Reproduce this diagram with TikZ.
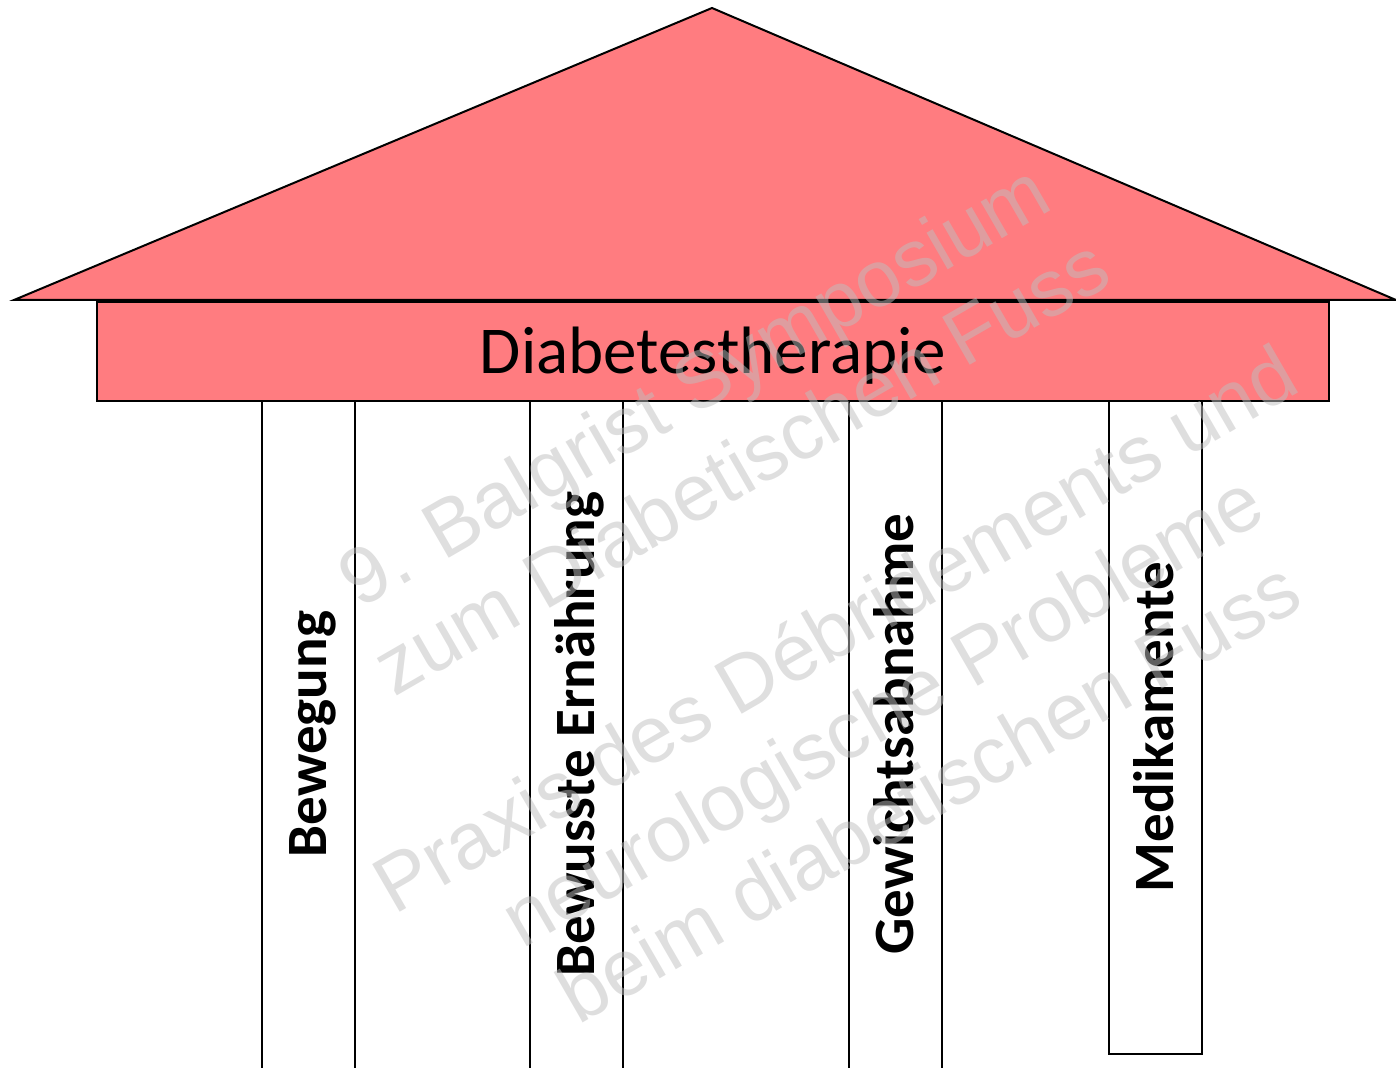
\documentclass[tikz,border=0pt]{standalone}
\usepackage{fontspec}
\setmainfont{Carlito}
\newfontfamily\wmfont{Liberation Sans}
\definecolor{roofred}{RGB}{255,124,128}
\definecolor{wmgray}{RGB}{191,191,191}
\begin{document}
\begin{tikzpicture}[x=0.5pt,y=-0.5pt,
  part/.style={draw=black, line width=1pt, fill=roofred},
  pillar/.style={draw=black, line width=0.9pt, fill=white, inner sep=0pt, minimum width=46.5pt, anchor=north},
  plabel/.style={font=\fontsize{28.5}{34}\selectfont\bfseries, rotate=90, inner sep=0pt, text height=18.35pt, text depth=0pt},
  wm/.style={font=\wmfont\fontsize{40}{46}\selectfont, text=wmgray, text opacity=0.5, rotate=30, anchor=base, inner sep=0pt}]
\useasboundingbox (0,0) rectangle (1396,1068);
\clip (0,0) rectangle (1396,1068);
% roof
\coordinate (rl) at (14,300);
\coordinate (apex) at (712,8);
\coordinate (rr) at (1396,300);
\filldraw[part] (rl) -- (apex) -- (rr) -- cycle;
% pillars
\node[pillar, minimum height=350pt] (p1) at (308.5,400) {};
\node[pillar, minimum height=350pt] (p2) at (576.5,400) {};
\node[pillar, minimum height=350pt] (p3) at (895.5,400) {};
\node[pillar, minimum height=326.5pt] (p4) at (1155.5,400) {};
% beam
\node[part, minimum width=616pt, minimum height=49.5pt, inner sep=0pt, anchor=north west] (beam) at (96,301) {};
\node[font=\fontsize{33.5}{40}\selectfont, text height=21.6pt, text depth=0pt, inner sep=0pt] (title) at (beam.center) {Diabetestherapie};
% labels
\node[plabel] (l1) at (308.5,734) {Bewegung};
\node[plabel] (l2) at (576.5,734) {Bewusste Ernährung};
\node[plabel] (l3) at (895.5,734) {Gewichtsabnahme};
\node[plabel] (l4) at (1155.5,727) {Medikamente};
% watermark
\node[wm] (w1) at (707.8,408.6) {9. Balgrist Symposium};
\node[wm] (w2) at (754.8,490) {zum Diabetischen Fuss};
\node[wm] (w3) at (848.8,652.8) {Praxis des Débridements und};
\node[wm] (w4) at (895.8,734.2) {neurologische Probleme};
\node[wm] (w5) at (942.8,815.6) {beim diabetischen Fuss};
\end{tikzpicture}
\end{document}
